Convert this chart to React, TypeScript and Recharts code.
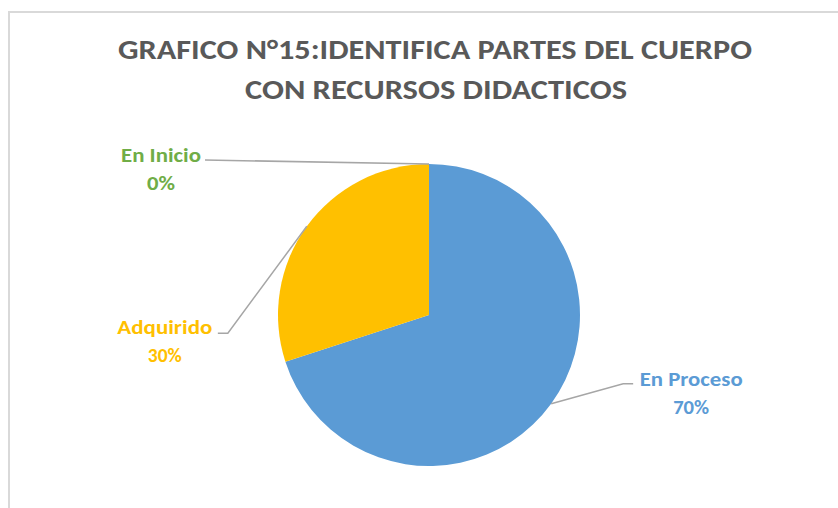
import * as React from "react";
import { Cell, Pie, PieChart } from "recharts";

// 区分・値
const categories = ["En Inicio", "En Proceso", "Adquirido"];
const values = [0, 70, 30];
const colors = ["#70AD47", "#5B9BD5", "#FFC000"];

const TITLE_LINES = ["GRAFICO N°15:IDENTIFICA PARTES DEL CUERPO", "CON RECURSOS DIDACTICOS"];

const FONT = "Carlito, Calibri, 'Open Sans', sans-serif";
const RAD = Math.PI / 180;

/// ラベル配置（弧上の点からの相対位置）。Excel の手動配置に合わせる。
const LABEL_LAYOUT: Record<string, { path: [number, number][]; tx: number; ty: number; w1: number; w2: number }> = {
  "En Inicio": { path: [[-224, -4]], tx: -268, ty: -9, w1: 80, w2: 28 },
  Adquirido: { path: [[-79, 107], [-89, 107]], tx: -142, ty: 101, w1: 95, w2: 34 },
  "En Proceso": { path: [[72, -20], [82, -20]], tx: 140, ty: -25, w1: 103, w2: 36 },
};

function sliceLabel(props: any): React.ReactElement | null {
  const { cx = 0, cy = 0, midAngle = 0, outerRadius = 0, name, percent = 0, index = 0 } = props;
  const lay = LABEL_LAYOUT[name];
  if (!lay) return null;
  const x0 = cx + outerRadius * Math.cos(-midAngle * RAD);
  const y0 = cy + outerRadius * Math.sin(-midAngle * RAD);
  const pts = [[0, 0], ...lay.path].map(([dx, dy]) => `${x0 + dx},${y0 + dy}`).join(" ");
  const color = colors[index % colors.length];
  return (
    <g>
      <polyline points={pts} fill="none" stroke="#A6A6A6" strokeWidth={1.5} />
      <text
        x={x0 + lay.tx}
        y={y0 + lay.ty}
        fill={color}
        fontSize={20}
        fontWeight={700}
        fontFamily={FONT}
        textAnchor="middle"
        dominantBaseline="central"
        textLength={lay.w1}
        lengthAdjust="spacingAndGlyphs"
      >
        {name}
      </text>
      <text
        x={x0 + lay.tx}
        y={y0 + lay.ty + 28}
        fill={color}
        fontSize={20}
        fontWeight={700}
        fontFamily={FONT}
        textAnchor="middle"
        dominantBaseline="central"
        textLength={lay.w2}
        lengthAdjust="spacingAndGlyphs"
      >
        {Math.round(percent * 100)}%
      </text>
    </g>
  );
}

export default function App(): React.ReactElement {
  const data = categories.map((name, i) => ({ name, value: values[i] }));
  return (
    <div style={{ position: "absolute", left: 0, top: 0, width: 838, height: 508, overflow: "hidden", background: "#fff" }}>
      <div
        style={{
          position: "absolute",
          left: 8,
          top: 11,
          width: 840,
          height: 510,
          border: "2px solid #D9D9D9",
          boxSizing: "border-box",
        }}
      />
      <svg width={838} height={508} style={{ position: "absolute", left: 0, top: 0 }}>
        <text
          x={435}
          y={49}
          fill="#595959"
          fontSize={28}
          fontWeight={700}
          fontFamily={FONT}
          textAnchor="middle"
          dominantBaseline="central"
          textLength={634}
          lengthAdjust="spacingAndGlyphs"
        >
          {TITLE_LINES[0]}
        </text>
        <text
          x={436}
          y={89}
          fill="#595959"
          fontSize={28}
          fontWeight={700}
          fontFamily={FONT}
          textAnchor="middle"
          dominantBaseline="central"
          textLength={382}
          lengthAdjust="spacingAndGlyphs"
        >
          {TITLE_LINES[1]}
        </text>
      </svg>
      <div style={{ position: "absolute", left: 0, top: 0 }}>
        <PieChart width={838} height={508} margin={{ top: 0, right: 0, bottom: 0, left: 0 }}>
          <Pie
            data={data}
            dataKey="value"
            nameKey="name"
            cx={429}
            cy={315}
            innerRadius={0}
            outerRadius={151}
            startAngle={90}
            endAngle={-270}
            stroke="none"
            labelLine={false}
            label={sliceLabel}
            isAnimationActive={false}
          >
            {data.map((d, i) => (
              <Cell key={d.name} fill={colors[i]} />
            ))}
          </Pie>
        </PieChart>
      </div>
    </div>
  );
}
